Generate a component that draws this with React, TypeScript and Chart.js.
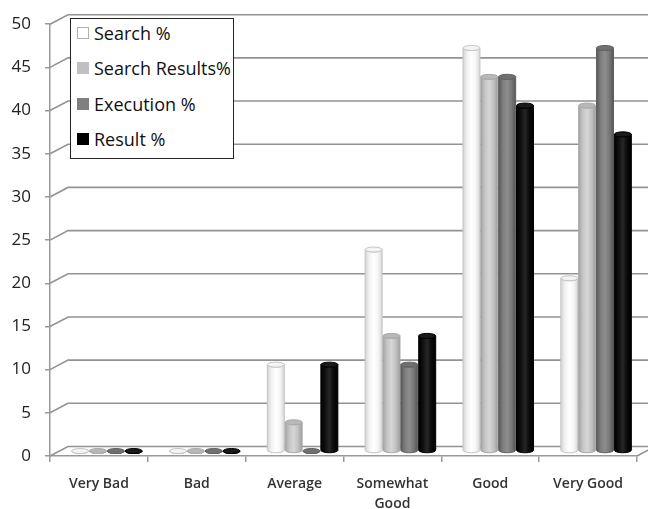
import React, { useEffect, useRef } from "react";
import { Chart, registerables } from "chart.js";
Chart.register(...registerables);

const categories: (string | string[])[] = ["Very Bad", "Bad", "Average", ["Somewhat", "Good"], "Good", "Very Good"];
const seriesNames = ["Search %", "Search Results%", "Execution %", "Result %"];
const searchPct = [0, 0, 10, 23.33, 46.67, 20];
const searchResultsPct = [0, 0, 3.33, 13.33, 43.33, 40];
const executionPct = [0, 0, 0, 10, 43.33, 46.67];
const resultPct = [0, 0, 10, 13.33, 40, 36.67];
const yTicks = [0, 5, 10, 15, 20, 25, 30, 35, 40, 45, 50];

const swatchColors = ["#ffffff", "#c0c0c0", "#808080", "#000000"];
const swatchBorders = ["#b0b0b0", "#c0c0c0", "#808080", "#000000"];
const barGradients = [
  ["#d4d4d4", "#f2f2f2", "#ffffff", "#f6f6f6", "#d8d8d8"],
  ["#a4a4a4", "#c6c6c6", "#d6d6d6", "#c2c2c2", "#9e9e9e"],
  ["#5a5a5a", "#7e7e7e", "#8e8e8e", "#787878", "#565656"],
  ["#000000", "#101010", "#262626", "#0a0a0a", "#000000"],
];
const barStrokes = ["#c4c4c4", "#a8a8a8", "#606060", "#000000"];
const capColors = ["#f4f4f4", "#b8b8b8", "#707070", "#1a1a1a"];

const DX = 18;
const DY = -9.5;
const OX = 8;
const OY = -5;

const depthPlugin = {
  id: "depthGrid",
  beforeDatasetsDraw(chart: any) {
    const { ctx, chartArea, scales } = chart;
    const y = scales.y;
    ctx.save();
    ctx.strokeStyle = "#939393";
    ctx.lineWidth = 1.6;
    for (const t of yTicks) {
      const py = y.getPixelForValue(t);
      ctx.beginPath();
      ctx.moveTo(chartArea.left, py);
      ctx.lineTo(chartArea.left + DX, py + DY);
      ctx.lineTo(chart.width, py + DY);
      ctx.stroke();
    }
    const p0 = y.getPixelForValue(0);
    ctx.beginPath();
    ctx.moveTo(chartArea.right, p0);
    ctx.lineTo(chartArea.right + DX, p0 + DY);
    ctx.stroke();
    ctx.restore();
  },
  afterDatasetsDraw(chart: any) {
    const { ctx } = chart;
    chart.data.datasets.forEach((_ds: any, i: number) => {
      const meta = chart.getDatasetMeta(i);
      meta.data.forEach((el: any) => {
        const { x, y, base, width } = el.getProps(["x", "y", "base", "width"], true);
        const left = x - width / 2 + OX;
        const right = x + width / 2 + OX;
        const cx = (left + right) / 2;
        const rx = width / 2;
        const ry = 2.5;
        const top = y + OY;
        const bottom = base + OY;
        ctx.save();
        const g = ctx.createLinearGradient(left, 0, right, 0);
        const stops = barGradients[i];
        stops.forEach((c, k) => g.addColorStop(k / (stops.length - 1), c));
        ctx.beginPath();
        ctx.moveTo(left, top);
        ctx.lineTo(left, bottom);
        ctx.ellipse(cx, bottom, rx, ry, 0, Math.PI, 0, true);
        ctx.lineTo(right, top);
        ctx.ellipse(cx, top, rx, ry, 0, 0, Math.PI, false);
        ctx.closePath();
        ctx.fillStyle = g;
        ctx.fill();
        ctx.strokeStyle = barStrokes[i];
        ctx.lineWidth = 1;
        ctx.stroke();
        ctx.beginPath();
        ctx.ellipse(cx, top, rx, ry, 0, 0, Math.PI * 2);
        ctx.fillStyle = capColors[i];
        ctx.fill();
        ctx.strokeStyle = barStrokes[i];
        ctx.stroke();
        ctx.restore();
      });
    });
  },
};

export default function App() {
  const ref = useRef<HTMLCanvasElement>(null);
  useEffect(() => {
    document.body.style.margin = "0";
    const values = [searchPct, searchResultsPct, executionPct, resultPct];
    const chart = new Chart(ref.current as HTMLCanvasElement, {
      type: "bar",
      data: {
        labels: categories as any,
        datasets: seriesNames.map((name, i) => ({
          label: name,
          data: values[i],
          backgroundColor: "rgba(0,0,0,0)",
          borderWidth: 0,
          categoryPercentage: 0.73,
          barPercentage: 0.95,
        })),
      },
      options: {
        responsive: false,
        animation: false,
        layout: { padding: { top: 20, right: 11, left: 0, bottom: 0 } },
        plugins: { legend: { display: false }, tooltip: { enabled: false } },
        scales: {
          x: {
            grid: { display: true, drawOnChartArea: false, drawTicks: true, tickLength: 6, offset: true, color: "#999", lineWidth: 1.5 },
            border: { display: true, color: "#999", width: 1.5 },
            ticks: { font: { family: "Open Sans", size: 14, weight: "600", lineHeight: 1.45 }, color: "#333", padding: 12, maxRotation: 0, autoSkip: false },
            afterFit: (s: any) => { s.height = 53; },
          },
          y: {
            min: 0,
            max: 50,
            ticks: { stepSize: 5, font: { family: "Open Sans", size: 17 }, color: "#222", padding: 14 },
            grid: { drawOnChartArea: false, tickLength: 5, color: "#999", lineWidth: 1.5 },
            border: { display: true, color: "#999", width: 1.5 },
            afterFit: (s: any) => { s.width = 50; },
          },
        },
      },
      plugins: [depthPlugin],
    });
    return () => chart.destroy();
  }, []);

  const rowCenters = [14, 49, 85, 120];
  return (
    <div style={{ position: "relative", width: 648, height: 509 }}>
      <canvas ref={ref} width={648} height={509} style={{ width: 648, height: 509, display: "block" }} />
      <div
        style={{
          position: "absolute",
          left: 70,
          top: 18,
          width: 162,
          height: 139,
          background: "#fff",
          border: "1.5px solid #222",
          fontFamily: "Open Sans",
          fontSize: 18,
          color: "#111",
        }}
      >
        {seriesNames.map((n, i) => (
          <div key={n} style={{ position: "absolute", left: 6, top: rowCenters[i] - 12, height: 24, display: "flex", alignItems: "center", whiteSpace: "nowrap" }}>
            <span style={{ display: "inline-block", width: 10, height: 10, background: swatchColors[i], border: `1px solid ${swatchBorders[i]}`, marginRight: 5 }} />
            <span>{n}</span>
          </div>
        ))}
      </div>
    </div>
  );
}
